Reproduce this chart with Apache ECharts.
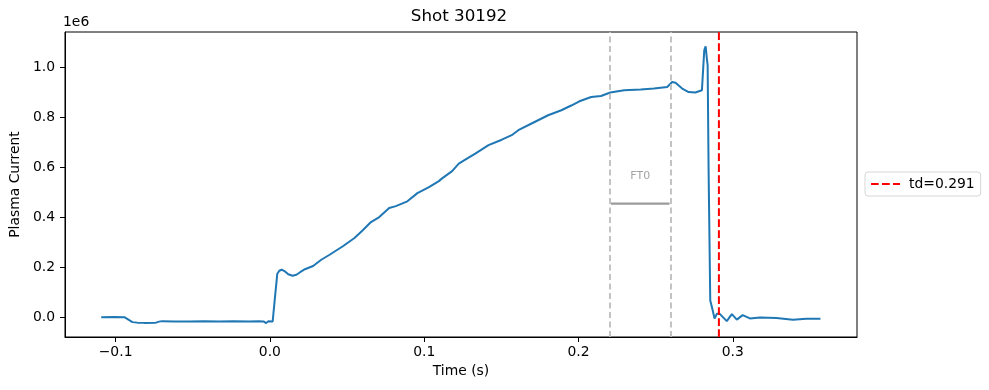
<!DOCTYPE html>
<html><head><meta charset="utf-8">
<script src="https://cdn.jsdelivr.net/npm/echarts@6/dist/echarts.min.js"></script>
<style>html,body{margin:0;padding:0;background:#fff}#c{width:989px;height:390px}</style>
</head><body><div id="c"></div>
<script>
// Time (s)
const time = [-0.1093,-0.1007,-0.0943,-0.0917,-0.0891,-0.0859,-0.0814,-0.0739,-0.0718,-0.0698,-0.0621,-0.0524,-0.0428,-0.0331,-0.0235,-0.0138,-0.0074,-0.0042,-0.0024,-0.0010,0.0001,0.0018,0.0033,0.0048,0.0061,0.0076,0.0100,0.0119,0.0147,0.0172,0.0196,0.0227,0.0280,0.0333,0.0387,0.0473,0.0548,0.0602,0.0655,0.0709,0.0773,0.0816,0.0891,0.0956,0.1031,0.1095,0.1116,0.1181,0.1224,0.1277,0.1331,0.1417,0.1503,0.1567,0.1610,0.1696,0.1803,0.1889,0.1953,0.2006,0.2082,0.2146,0.2206,0.2296,0.2403,0.2489,0.2575,0.2607,0.2629,0.2672,0.2714,0.2757,0.2800,0.2809,0.2815,0.2824,0.2833,0.2837,0.2843,0.2854,0.2865,0.2882,0.2897,0.2914,0.2961,0.2994,0.3026,0.3064,0.3111,0.3176,0.3283,0.3390,0.3476,0.3568];
// Plasma current (x 1e6 A)
const current = [0.000,0.001,0.000,-0.010,-0.020,-0.022,-0.023,-0.022,-0.018,-0.016,-0.017,-0.017,-0.016,-0.017,-0.016,-0.017,-0.016,-0.017,-0.024,-0.016,-0.024,-0.017,0.080,0.174,0.186,0.190,0.182,0.172,0.166,0.170,0.180,0.192,0.205,0.230,0.250,0.284,0.317,0.348,0.381,0.401,0.437,0.445,0.464,0.497,0.521,0.545,0.556,0.585,0.615,0.635,0.655,0.689,0.711,0.729,0.749,0.776,0.809,0.829,0.848,0.865,0.882,0.886,0.900,0.909,0.912,0.916,0.922,0.942,0.939,0.916,0.902,0.900,0.909,0.912,1.069,1.085,1.029,1.010,0.600,0.067,0.040,-0.006,0.014,0.014,-0.016,0.012,-0.010,0.008,-0.005,-0.001,-0.003,-0.010,-0.006,-0.006];
const xTicks = [-0.1, 0.0, 0.1, 0.2, 0.3];
const yTicks = [0.0, 0.2, 0.4, 0.6, 0.8, 1.0];
const xRange = [-0.1328, 0.3805];
const yRange = [-0.0796, 1.1426];
const tDisrupt = 0.291;
const ftWindow = [0.221, 0.259];
const ftLevel = 0.455;
const ftName = 'FT0';
const shot = 30192;

const fmt = v => v.toFixed(1).replace('-', '\u2212');
const FONT = 'DejaVu Sans';
const tdName = 'td=' + tDisrupt;
const chart = echarts.init(document.getElementById('c'), null, {renderer: 'canvas'});
const series = [
  {
    name: 'Ip', type: 'line', data: time.map((t, i) => [t, current[i]]),
    showSymbol: false, symbol: 'none', silent: true,
    lineStyle: {color: '#1f77b4', width: 2}, z: 3,
    markLine: {
      silent: true, symbol: 'none', label: {show: false},
      lineStyle: {color: '#bdbdbd', width: 1.8, type: [6, 3.5]},
      data: ftWindow.map(x => ({xAxis: x}))
    }
  },
  {
    name: 'ftbar', type: 'line', data: ftWindow.map(x => [x, ftLevel]),
    showSymbol: false, symbol: 'none', silent: true,
    lineStyle: {color: '#9b9b9b', width: 2.2}, z: 2
  },
  {
    name: 'ftlabel', type: 'scatter', symbolSize: 0, silent: true,
    data: [[(ftWindow[0] + ftWindow[1]) / 2, ftLevel]],
    label: {show: true, position: 'top', distance: 22, formatter: ftName,
      color: '#8c8c8c', fontSize: 11, fontFamily: FONT}
  },
  {
    name: tdName, type: 'line', data: yRange.map(y => [tDisrupt, y]),
    symbol: 'none', showSymbol: false, silent: true,
    lineStyle: {color: '#ff0000', width: 2, type: [7.7, 3.3]},
    itemStyle: {color: '#ff0000'}, z: 4
  }
];
chart.setOption({
  animation: false,
  backgroundColor: '#fff',
  grid: {left: 61, right: 132, top: 32, bottom: 53, show: true, borderColor: '#000', borderWidth: 1, backgroundColor: 'transparent'},
  xAxis: {
    type: 'value', min: xRange[0], max: xRange[1],
    name: 'Time (s)', nameLocation: 'middle', nameGap: 27,
    nameTextStyle: {color: '#000', fontSize: 13.9, fontFamily: FONT},
    axisLine: {show: true, onZero: false, lineStyle: {color: '#000', width: 1}},
    axisTick: {show: true, length: 5, lineStyle: {color: '#000', width: 1}, customValues: xTicks},
    axisLabel: {color: '#000', fontSize: 13.9, fontFamily: FONT, margin: 8, customValues: xTicks, formatter: fmt},
    splitLine: {show: false}
  },
  yAxis: {
    type: 'value', min: yRange[0], max: yRange[1],
    name: 'Plasma Current', nameLocation: 'middle', nameGap: 39,
    nameTextStyle: {color: '#000', fontSize: 13.9, fontFamily: FONT},
    axisLine: {show: true, onZero: false, lineStyle: {color: '#000', width: 1}},
    axisTick: {show: true, length: 5, lineStyle: {color: '#000', width: 1}, customValues: yTicks},
    axisLabel: {color: '#000', fontSize: 13.9, fontFamily: FONT, margin: 10, customValues: yTicks, formatter: fmt},
    splitLine: {show: false}
  },
  legend: {
    data: [tdName], left: 865, top: 172, orient: 'vertical',
    padding: [5, 6, 5, 5], itemWidth: 29, itemHeight: 14,
    itemStyle: {opacity: 0, borderWidth: 0},
    borderColor: '#d6d6d6', borderWidth: 1, borderRadius: 3, backgroundColor: '#fff',
    textStyle: {color: '#000', fontSize: 13.9, fontFamily: FONT, padding: [0, 0, 0, 4]},
    selectedMode: false
  },
  graphic: [
    {type: 'text', left: 63, top: 15, style: {text: '1e6', fill: '#000', font: '13.9px "DejaVu Sans"'}},
    {type: 'text', x: 459, y: 17, style: {text: 'Shot ' + shot, fill: '#000', font: '16.7px "DejaVu Sans"', textAlign: 'center', textVerticalAlign: 'middle'}}
  ],
  series: series
});
</script>
</body></html>
